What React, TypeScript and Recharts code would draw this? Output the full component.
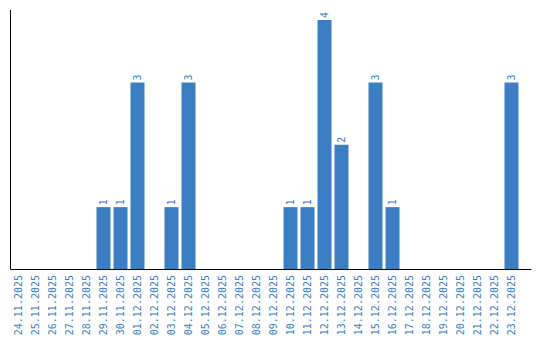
import React from "react";
import { BarChart, Bar, XAxis, YAxis, LabelList } from "recharts";

const dates = [
  "24.11.2025", "25.11.2025", "26.11.2025", "27.11.2025", "28.11.2025",
  "29.11.2025", "30.11.2025", "01.12.2025", "02.12.2025", "03.12.2025",
  "04.12.2025", "05.12.2025", "06.12.2025", "07.12.2025", "08.12.2025",
  "09.12.2025", "10.12.2025", "11.12.2025", "12.12.2025", "13.12.2025",
  "14.12.2025", "15.12.2025", "16.12.2025", "17.12.2025", "18.12.2025",
  "19.12.2025", "20.12.2025", "21.12.2025", "22.12.2025", "23.12.2025",
];
const counts = [0, 0, 0, 0, 0, 1, 1, 3, 0, 1, 3, 0, 0, 0, 0, 0, 1, 1, 4, 2, 0, 3, 1, 0, 0, 0, 0, 0, 0, 3];

const data = dates.map((d, i) => ({ date: d, count: counts[i] }));

const BLUE = "#3b7ec4";
const FONT = "'DejaVu Sans Mono', monospace";

const Tick = (props: any) => {
  const { x, y, payload } = props;
  return (
    <g transform={`translate(${x},${y - 2.5}) rotate(-90)`}>
      <text x={0} y={0} dy={3.5} textAnchor="end" fill={BLUE} fontSize={10} fontFamily={FONT}>
        {payload.value}
      </text>
    </g>
  );
};

const ValueLabel = (props: any) => {
  const { x, y, width, value } = props;
  if (!value) return null;
  const cx = Number(x) + Number(width) / 2;
  const ty = Number(y) - 2;
  return (
    <g transform={`translate(${cx},${ty}) rotate(-90)`}>
      <text x={0} y={0} dy={3.5} textAnchor="start" fill={BLUE} fontSize={10} fontFamily={FONT}>
        {value}
      </text>
    </g>
  );
};

export default function App() {
  return (
    <div style={{ position: "absolute", left: 0, top: 0, width: 540, height: 340 }}>
      <BarChart
        width={540}
        height={340}
        data={data}
        margin={{ top: 10, left: 9.5, right: 8.5, bottom: 0.5 }}
        barSize={14}
      >
        <XAxis
          dataKey="date"
          interval={0}
          height={70}
          tickLine={false}
          axisLine={{ stroke: "#000", strokeWidth: 1 }}
          padding={{ left: -1, right: 12 }}
          tick={<Tick />}
        />
        <YAxis
          width={1}
          domain={[0, 4]}
          padding={{ top: 10, bottom: 0 }}
          tick={false}
          tickLine={false}
          axisLine={{ stroke: "#000", strokeWidth: 1 }}
        />
        <Bar dataKey="count" fill={BLUE} isAnimationActive={false}>
          <LabelList dataKey="count" content={<ValueLabel />} />
        </Bar>
      </BarChart>
    </div>
  );
}
